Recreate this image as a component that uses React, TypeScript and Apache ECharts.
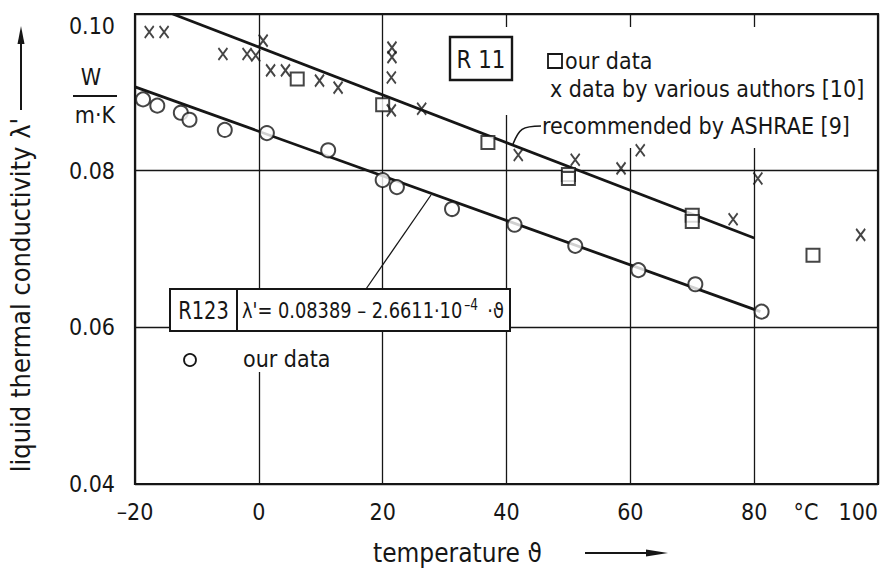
import React, { useEffect, useRef } from "react";
import * as echarts from "echarts";

const FONT = "'Liberation Sans Narrow','DejaVu Sans Condensed','DejaVu Sans',sans-serif";
const INK = "#161616";

// x ticks (°C) and y ticks (W/(m·K))
const xTicks = [-20, 0, 20, 40, 60, 80, 100];
const yTicks = [0.04, 0.06, 0.08, 0.1];

// R11 recommended by ASHRAE [9] (line as drawn)
const r11Line: [number, number][] = [
  [-13.9, 0.1],
  [80, 0.0714],
];
// R123 fit line as drawn
const r123Line: [number, number][] = [
  [-20, 0.0907],
  [81, 0.062],
];
// R11 our data (squares)
const r11Ours: [number, number][] = [
  [6.2, 0.0917],
  [20, 0.0884],
  [37, 0.0836],
  [50, 0.0795],
  [50, 0.079],
  [70, 0.0743],
  [70, 0.0735],
  [89.5, 0.0692],
];
// R11 data by various authors [10] (x marks)
const r11Others: [number, number][] = [
  [-17.7, 0.0977],
  [-15.3, 0.0977],
  [-5.8, 0.0949],
  [-1.9, 0.0949],
  [-0.5, 0.0947],
  [0.7, 0.0966],
  [1.9, 0.0928],
  [4.3, 0.0928],
  [9.8, 0.0915],
  [12.8, 0.0906],
  [21.5, 0.0957],
  [21.5, 0.0945],
  [21.4, 0.0919],
  [21.4, 0.0877],
  [26.3, 0.0879],
  [41.9, 0.082],
  [51.1, 0.0814],
  [58.5, 0.0803],
  [61.6, 0.0826],
  [76.6, 0.0738],
  [80.6, 0.079],
  [97.2, 0.0718],
];
// R123 our data (circles)
const r123Ours: [number, number][] = [
  [-18.7, 0.0891],
  [-16.4, 0.0883],
  [-12.6, 0.0874],
  [-11.2, 0.0865],
  [-5.5, 0.0852],
  [1.3, 0.0848],
  [11.2, 0.0826],
  [20, 0.0788],
  [22.3, 0.0779],
  [31.2, 0.0751],
  [41.3, 0.0731],
  [51.1, 0.0704],
  [61.3, 0.0673],
  [70.5, 0.0655],
  [81.2, 0.062],
];

function txt(text: string, x: number, y: number, size: number, align = "left", sx = 1, extra: any = {}) {
  return {
    type: "text",
    z: 10,
    x,
    y,
    scaleX: sx,
    style: {
      text,
      x: 0,
      y: 0,
      fill: INK,
      fontSize: size,
      fontFamily: FONT,
      align,
      textAlign: align,
      verticalAlign: "middle",
      textVerticalAlign: "middle",
      ...extra,
    },
  };
}

export default function App() {
  const ref = useRef<HTMLDivElement>(null);
  useEffect(() => {
    if (!ref.current) return;
    const chart = echarts.init(ref.current, null, { renderer: "svg" });
    const axisLabel = { color: INK, fontSize: 23, fontFamily: FONT };
    const option: any = {
      animation: false,
      backgroundColor: "#fff",
      grid: {
        left: 135,
        right: 4,
        top: 14,
        bottom: 88,
        show: true,
        borderColor: INK,
        borderWidth: 2.2,
        backgroundColor: "transparent",
      },
      xAxis: {
        type: "value",
        min: xTicks[0],
        max: xTicks[xTicks.length - 1],
        interval: 20,
        axisLine: { show: false },
        axisTick: { show: false },
        splitLine: { show: true, lineStyle: { color: INK, width: 1.3 } },
        axisLabel: {
          ...axisLabel,
          margin: 16,
          alignMaxLabel: "right",
          formatter: (v: number) => (v < 0 ? "–" + Math.abs(v) : String(v)),
        },
      },
      yAxis: {
        type: "value",
        min: yTicks[0],
        max: yTicks[yTicks.length - 1],
        interval: 0.02,
        axisLine: { show: false },
        axisTick: { show: false },
        splitLine: { show: true, lineStyle: { color: INK, width: 1.3 } },
        axisLabel: {
          ...axisLabel,
          margin: 20,
          verticalAlignMaxLabel: "top",
          formatter: (v: number) => v.toFixed(2),
        },
      },
      series: [
        {
          type: "line",
          data: r11Line,
          symbol: "none",
          lineStyle: { color: INK, width: 2.8 },
          z: 3,
        },
        {
          type: "line",
          data: r123Line,
          symbol: "none",
          lineStyle: { color: INK, width: 2.8 },
          z: 3,
        },
        {
          type: "scatter",
          data: r11Ours,
          symbol: "rect",
          symbolSize: 13,
          itemStyle: { color: "#fff", borderColor: INK, borderWidth: 2 },
          z: 4,
        },
        {
          type: "scatter",
          data: r11Others,
          symbol: "path://M0,0L8,11M8,0L0,11",
          symbolSize: [9, 12],
          itemStyle: { color: "none", borderColor: INK, borderWidth: 2 },
          z: 5,
        },
        {
          type: "scatter",
          data: r123Ours,
          symbol: "circle",
          symbolSize: 14,
          itemStyle: { color: "#fff", borderColor: INK, borderWidth: 2 },
          z: 4,
        },
      ],
      graphic: [
        // white covers for legend area (hide grid lines)
        { type: "rect", z: 1, shape: { x: 445, y: 27, width: 431, height: 88 }, style: { fill: "#fff" } },
        { type: "rect", z: 1, shape: { x: 520, y: 110, width: 356, height: 38 }, style: { fill: "#fff" } },
        { type: "rect", z: 1, shape: { x: 172, y: 331, width: 140, height: 41 }, style: { fill: "#fff" } },
        // R11 box
        { type: "rect", z: 6, shape: { x: 450, y: 37, width: 62, height: 43 }, style: { fill: "#fff", stroke: INK, lineWidth: 2.4 } },
        txt("R 11", 481, 59, 25, "center", 0.95),
        { type: "rect", z: 6, shape: { x: 548, y: 54, width: 14, height: 14 }, style: { fill: "#fff", stroke: INK, lineWidth: 1.8 } },
        txt("our data", 565, 61, 23),
        txt("x data by various authors [10]", 550, 89, 23),
        txt("recommended by ASHRAE [9]", 542, 126, 23),
        {
          type: "bezierCurve",
          z: 6,
          shape: { x1: 513, y1: 144, x2: 541, y2: 126, cpx1: 519, cpy1: 129, cpx2: 522, cpy2: 126 },
          style: { stroke: INK, lineWidth: 1.6, fill: "none" },
        },
        // R123 box
        { type: "rect", z: 6, shape: { x: 170, y: 289, width: 340, height: 42 }, style: { fill: "#fff", stroke: INK, lineWidth: 2 } },
        { type: "line", z: 7, shape: { x1: 237, y1: 289, x2: 237, y2: 331 }, style: { stroke: INK, lineWidth: 2 } },
        txt("R123", 203.5, 311, 24, "center", 0.9),
        {
          type: "text",
          z: 10,
          x: 242,
          y: 311,
          scaleX: 0.9,
          style: {
            text: "{a|λ'= 0.08389 – 2.6611·10}{s|–4}{a| ·ϑ}",
            x: 0,
            y: 0,
            align: "left",
            textAlign: "left",
            verticalAlign: "middle",
            textVerticalAlign: "middle",
            fill: INK,
            fontFamily: FONT,
            fontSize: 22,
            rich: {
              a: { fontSize: 22, fontFamily: FONT, fill: INK, color: INK },
              s: { fontSize: 15, fontFamily: FONT, fill: INK, color: INK, verticalAlign: "top", padding: [0, 4, 12, 2] },
            },
          },
        },
        { type: "line", z: 7, shape: { x1: 366, y1: 289, x2: 431, y2: 195 }, style: { stroke: INK, lineWidth: 1.3 } },
        { type: "circle", z: 7, shape: { cx: 190, cy: 360, r: 6 }, style: { fill: "#fff", stroke: INK, lineWidth: 1.8 } },
        txt("our data", 243, 359, 23),
        // unit
        txt("W", 91, 77, 23, "center"),
        { type: "line", z: 7, shape: { x1: 73, y1: 96, x2: 117, y2: 96 }, style: { stroke: INK, lineWidth: 2 } },
        txt("m·K", 95, 115, 23, "center"),
        // degree label on x axis
        txt("°C", 806, 512, 23, "center"),
        // y axis title and arrow
        {
          type: "text",
          z: 10,
          x: 20,
          y: 295,
          rotation: Math.PI / 2,
          style: {
            text: "liquid thermal conductivity λ'",
            x: 0,
            y: 0,
            fill: INK,
            fontSize: 27,
            fontFamily: FONT,
            align: "center",
            textAlign: "center",
            verticalAlign: "middle",
            textVerticalAlign: "middle",
          },
        },
        { type: "line", z: 7, shape: { x1: 21, y1: 110, x2: 21, y2: 40 }, style: { stroke: INK, lineWidth: 2 } },
        { type: "polygon", z: 7, shape: { points: [[21, 26], [17.5, 44], [24.5, 44]] }, style: { fill: INK } },
        // x axis title and arrow
        txt("temperature ϑ", 373, 553, 26),
        { type: "line", z: 7, shape: { x1: 585, y1: 553, x2: 650, y2: 553 }, style: { stroke: INK, lineWidth: 2 } },
        { type: "polygon", z: 7, shape: { points: [[668, 553], [646, 549.5], [646, 556.5]] }, style: { fill: INK } },
      ],
    };
    chart.setOption(option);
    return () => chart.dispose();
  }, []);
  return <div ref={ref} style={{ position: "absolute", left: 0, top: 0, width: 882, height: 572 }} />;
}
